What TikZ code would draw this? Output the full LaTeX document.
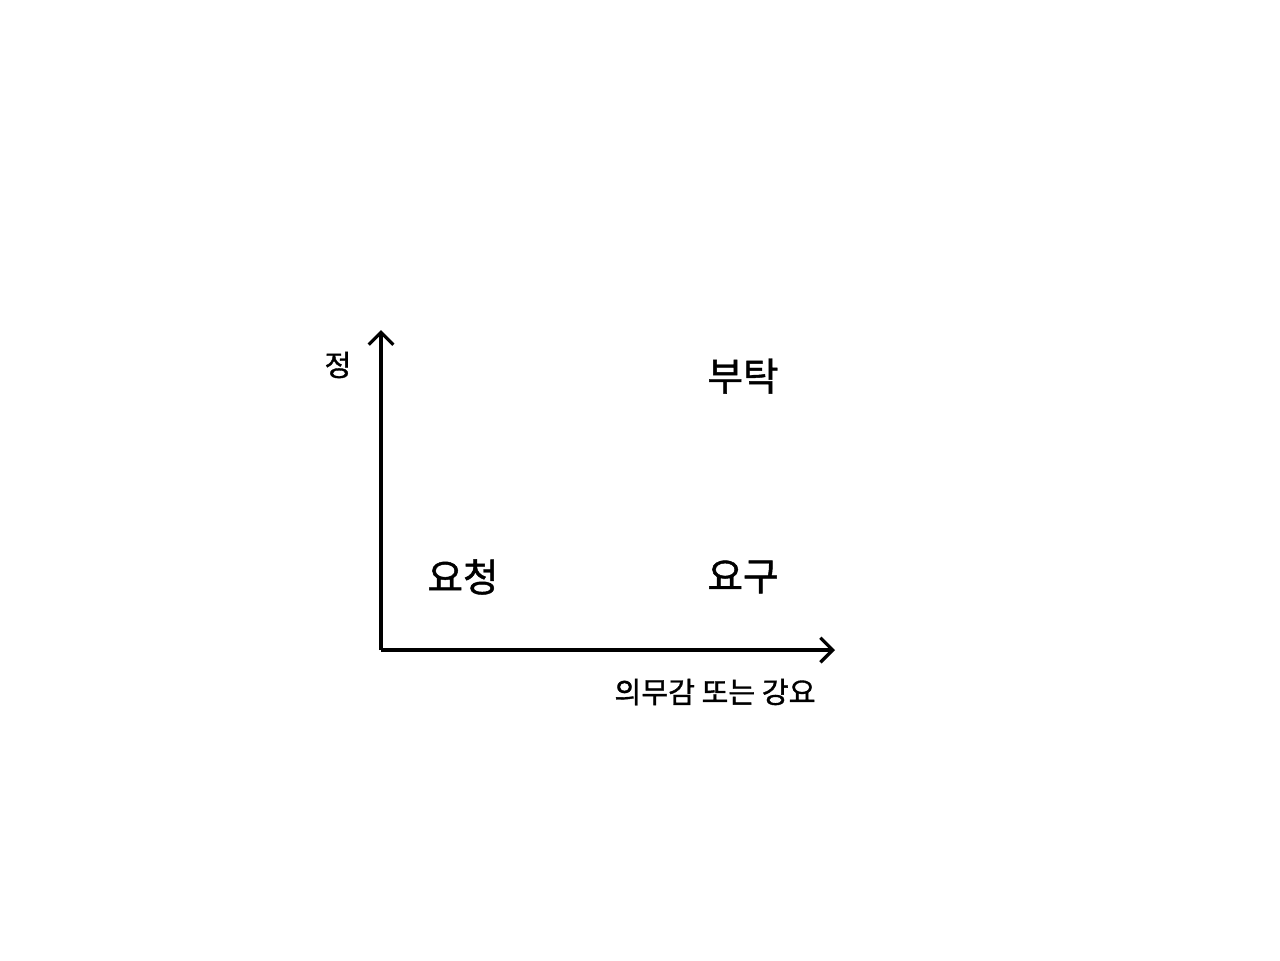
\documentclass[tikz,border=0pt]{standalone}
\usepackage{fontspec}
\newfontfamily\krfont[FakeBold=1.2]{Noto Sans CJK KR}
\usetikzlibrary{arrows.meta,positioning}

\begin{document}
\begin{tikzpicture}[
    x=0.01cm, y=-0.01cm,
    axis/.style={-{Straight Barb[length=3.5pt,width=7pt,line width=0.95pt]}, line width=0.95pt},
    word/.style={font=\krfont\fontsize{11pt}{13pt}\selectfont, inner sep=0pt},
    axislabel/.style={font=\krfont\fontsize{8.3pt}{10pt}\selectfont, inner sep=0pt}
]
    \useasboundingbox (0,0) rectangle (1280,960);
    \coordinate (origin) at (381,650);
    \coordinate (ytip) at (381,330);
    \coordinate (xtip) at (835,650);

    \draw[axis] (origin) -- (ytip);
    \draw[axis] (origin) -- (xtip);

    \node[axislabel] (jeong) at (338,365) {정};
    \node[axislabel] (xlabel) at (715,692) {의무감 또는 강요};

    \node[word] (butak) at (743,376) {부탁};
    \node[word] (yocheong) at (463,577) {요청};
    \node[word] (yogu) at (743,577) {요구};
\end{tikzpicture}
\end{document}
